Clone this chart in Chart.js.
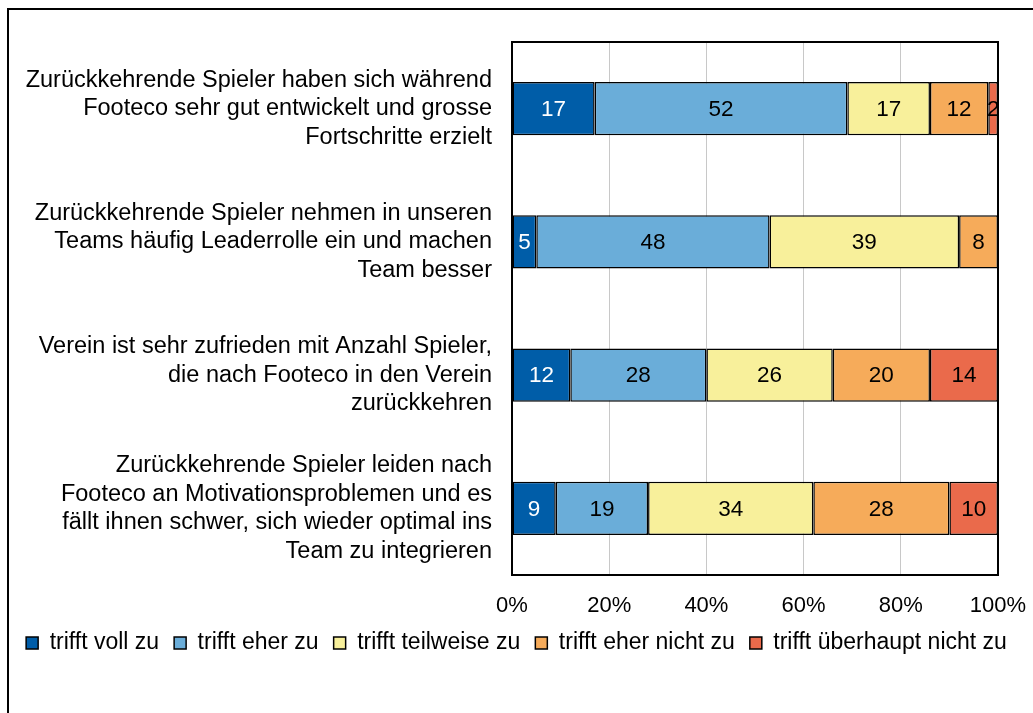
<!DOCTYPE html>
<html>
<head>
<meta charset="utf-8">
<script src="https://cdn.jsdelivr.net/npm/chart.js@4/dist/chart.umd.min.js"></script>
<style>
  body { margin: 0; background: #fff; overflow: hidden; }
  #frame { position: absolute; left: 7px; top: 8px; width: 2000px; height: 2000px;
           border-left: 2px solid #000; border-top: 2px solid #000; }
  #wrap { position: absolute; left: 0; top: 0; width: 1033px; height: 713px; }
</style>
</head>
<body>
<div id="frame"></div>
<div id="wrap"><canvas id="chart"></canvas></div>
<script>
const categories = [
    ['Zurückkehrende Spieler haben sich während', 'Footeco sehr gut entwickelt und grosse', 'Fortschritte erzielt'],
    ['Zurückkehrende Spieler nehmen in unseren', 'Teams häufig Leaderrolle ein und machen', 'Team besser'],
    ['Verein ist sehr zufrieden mit Anzahl Spieler,', 'die nach Footeco in den Verein', 'zurückkehren'],
    ['Zurückkehrende Spieler leiden nach', 'Footeco an Motivationsproblemen und es', 'fällt ihnen schwer, sich wieder optimal ins', 'Team zu integrieren']
];
const seriesNames = ['trifft voll zu', 'trifft eher zu', 'trifft teilweise zu', 'trifft eher nicht zu', 'trifft überhaupt nicht zu'];
const trifftVoll = [17, 5, 12, 9];
const trifftEher = [52, 48, 28, 19];
const trifftTeilweise = [17, 39, 26, 34];
const trifftEherNicht = [12, 8, 20, 28];
const trifftUeberhauptNicht = [2, null, 14, 10];
const xMin = 0, xMax = 100, xStep = 20;

const colors = ['#005DA8', '#6AADD9', '#F8F09B', '#F6AB5A', '#EA6A4B'];
const labelColors = ['#fff', '#000', '#000', '#000', '#000'];
const seriesValues = [trifftVoll, trifftEher, trifftTeilweise, trifftEherNicht, trifftUeberhauptNicht];

Chart.defaults.font.family = '"Liberation Sans", Arial, sans-serif';
Chart.defaults.color = '#000';

// numbers in the middle of every segment
const valueLabels = {
    id: 'valueLabels',
    afterDatasetsDraw(chart) {
        const {ctx, chartArea} = chart;
        ctx.save();
        ctx.beginPath();
        ctx.rect(chartArea.left, chartArea.top, chartArea.width, chartArea.height);
        ctx.clip();
        ctx.font = '22.5px "Liberation Sans", Arial, sans-serif';
        ctx.textAlign = 'center';
        ctx.textBaseline = 'middle';
        chart.data.datasets.forEach((ds, i) => {
            chart.getDatasetMeta(i).data.forEach((bar, j) => {
                const v = ds.data[j];
                if (!v) return;
                const p = bar.getProps(['x', 'y', 'base'], true);
                ctx.fillStyle = labelColors[i];
                ctx.fillText(String(v), (p.x + p.base) / 2, p.y + 1);
            });
        });
        ctx.restore();
    }
};

// black box round the plot area
const plotBorder = {
    id: 'plotBorder',
    afterDatasetsDraw(chart) {
        const {ctx, chartArea} = chart;
        ctx.save();
        ctx.strokeStyle = '#000';
        ctx.lineWidth = 2;
        ctx.strokeRect(chartArea.left, chartArea.top, chartArea.width, chartArea.height);
        ctx.restore();
    }
};

new Chart(document.getElementById('chart'), {
    type: 'bar',
    data: {
        labels: categories,
        datasets: seriesNames.map((name, i) => ({
            label: name,
            data: seriesValues[i],
            backgroundColor: colors[i],
            borderColor: '#000',
            borderWidth: 1.5,
            borderSkipped: false,
            categoryPercentage: 1,
            barPercentage: 0.4
        }))
    },
    options: {
        indexAxis: 'y',
        responsive: true,
        maintainAspectRatio: false,
        animation: false,
        layout: { padding: { left: 0, right: 0, top: 42, bottom: 48.5 } },
        plugins: {
            tooltip: { enabled: false },
            legend: {
                position: 'bottom',
                labels: {
                    boxWidth: 12,
                    boxHeight: 12,
                    padding: 15,
                    font: { size: 23 },
                    color: '#000'
                }
            }
        },
        scales: {
            x: {
                stacked: true,
                min: xMin,
                max: xMax,
                ticks: {
                    stepSize: xStep,
                    padding: 20,
                    font: { size: 22, lineHeight: 1 },
                    color: '#000',
                    callback: v => v + '%'
                },
                grid: { color: '#C8C8C8', lineWidth: 1, drawTicks: false },
                border: { display: true, color: '#000', width: 2 },
                afterFit(s) {
                    s.height = 41.5;
                    s.paddingLeft = 0;
                    s.paddingRight = 0;
                }
            },
            y: {
                stacked: true,
                ticks: {
                    autoSkip: false,
                    padding: 20,
                    font: { size: 23.5, lineHeight: 1.213 },
                    color: '#000'
                },
                grid: { display: false, drawTicks: false },
                border: { display: true, color: '#000', width: 2 },
                afterFit(s) {
                    s.width = 512;
                    s.paddingTop = 0;
                    s.paddingBottom = 0;
                }
            },
            yRight: {
                type: 'linear',
                position: 'right',
                display: true,
                grid: { display: false, drawTicks: false },
                ticks: { display: false },
                border: { display: false },
                afterFit(s) {
                    s.width = 35;
                    s.paddingTop = 0;
                    s.paddingBottom = 0;
                }
            }
        }
    },
    plugins: [valueLabels, plotBorder]
});
</script>
</body>
</html>
